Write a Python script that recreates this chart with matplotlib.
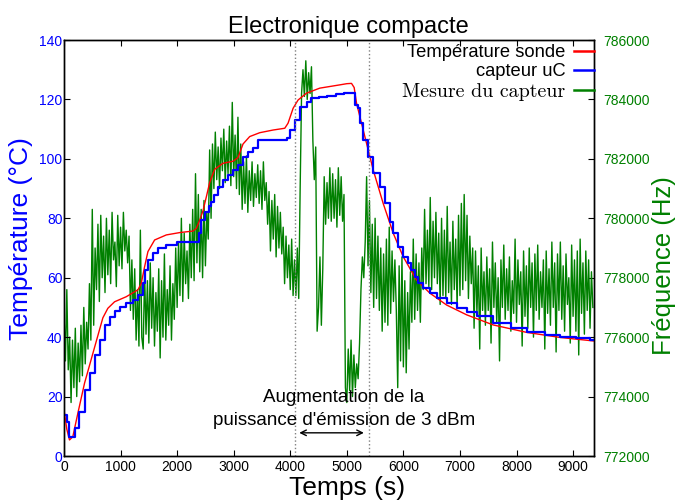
import numpy as np
import matplotlib
matplotlib.use("Agg")
import matplotlib.pyplot as plt

plt.rcParams['font.family'] = ['Liberation Sans', 'DejaVu Sans']

# ---- data ----
red_t = [0, 50, 97, 156, 245, 363, 510, 687, 775, 894, 1100, 1306, 1366, 1425, 1484,
         1602, 1809, 2050, 2280, 2340, 2400, 2457, 2520, 2575, 2664, 2810, 2988, 3076,
         3165, 3283, 3460, 3696, 3903, 3961, 4050, 4138, 4287, 4522, 4876, 5000, 5083,
         5130, 5172, 5290, 5466, 5643, 5820, 5996, 6233, 6469, 6765, 7120, 7589, 8180,
         8770, 9370]
red_T = [15.5, 9.0, 5.4, 6.5, 14.4, 24.5, 34.5, 46.5, 49.7, 51.9, 53.6, 55.9, 58.1, 63.7,
         68.8, 72.7, 74.4, 75.2, 75.7, 76.6, 79.4, 82.5, 87.5, 92.0, 96.5, 98.5, 99.2,
         100.4, 105.0, 107.5, 108.8, 109.7, 110.3, 112.0, 117.0, 119.8, 122.1, 123.8,
         124.9, 125.3, 125.4, 124.0, 118.7, 109.7, 96.3, 85.0, 75.0, 67.1, 59.2, 54.8,
         50.8, 47.5, 44.1, 41.6, 39.9, 38.7]

blue_t = [0, 60, 97, 186, 274, 363, 451, 540, 628, 717, 805, 894, 982, 1100, 1220, 1306,
          1395, 1425, 1484, 1570, 1660, 1800, 2000, 2380, 2430, 2490, 2560, 2605, 2650,
          2720, 2810, 2900, 2985, 3075, 3160, 3250, 3340, 3430, 3940, 3990, 4080, 4170,
          4290, 4375, 4500, 4650, 4800, 4950, 5142, 5200, 5240, 5290, 5377, 5466, 5584,
          5673, 5760, 5820, 5908, 5996, 6085, 6140, 6204, 6260, 6350, 6469, 6588, 6765,
          6942, 7120, 7300, 7590, 7900, 8180, 8500, 8770, 9050, 9300, 9370]
blue_T = [13.8, 11.5, 6.5, 9.3, 14.9, 22.2, 27.8, 34.0, 39.0, 44.1, 46.9, 48.9, 50.3, 51.4,
          52.5, 54.2, 58.1, 62.6, 66.0, 68.2, 69.9, 71.0, 72.1, 75.0, 79.4, 82.0, 84.0,
          85.5, 87.8, 90.6, 92.9, 94.6, 96.3, 97.9, 100.7, 102.4, 103.6, 106.4, 106.9,
          109.7, 113.1, 117.6, 119.3, 120.4, 120.9, 121.3, 121.7, 122.0, 118.1, 117.0,
          112.0, 106.4, 100.7, 95.2, 90.6, 85.0, 78.9, 75.0, 70.4, 67.1, 64.9, 62.6,
          60.4, 58.1, 56.4, 54.8, 53.1, 51.4, 49.7, 48.3, 47.0, 44.8, 43.2, 41.8, 40.8,
          40.2, 39.6, 39.0, 38.9]

# frequency samples every 25 s, in kHz
green_t = np.arange(0, 9375, 25)
green_khz = [
    776.8, 775.2, 777.6, 774.9, 776.0, 773.8, 775.9, 774.3, 776.3, 774.0,
    775.8, 774.5, 776.4, 774.7, 777.0, 775.1, 776.5, 775.6, 777.8, 775.9,
    780.3, 776.4, 779.0, 777.6, 779.8, 777.2, 780.1, 778.0, 779.4, 777.5,
    780.0, 778.1, 779.6, 777.8, 780.2, 778.6, 779.2, 777.7, 780.1, 778.4,
    779.7, 778.3, 780.2, 778.9, 779.6, 778.5, 779.4, 776.9, 778.6, 776.6,
    778.3, 775.9, 777.6, 775.7, 779.6, 776.0, 775.6, 778.2, 776.1, 777.9,
    775.8, 778.5, 776.3, 778.0, 775.7, 777.5, 776.2, 778.3, 775.3, 777.9,
    776.0, 778.8, 775.9, 777.6, 776.4, 778.4, 775.9, 777.8, 776.6, 779.0,
    777.0, 779.2, 777.4, 780.0, 777.2, 779.5, 777.8, 778.9, 777.3, 779.8,
    778.0, 780.3, 777.9, 781.5, 778.5, 780.8, 778.2, 780.3, 778.0, 780.6,
    778.4, 780.2, 779.3, 782.3, 780.0, 782.5, 781.0, 782.9, 781.3, 782.4,
    781.0, 782.7, 781.6, 783.0, 781.2, 782.6, 781.5, 783.1, 781.1, 783.9,
    781.4, 782.8, 781.0, 783.4, 780.8, 782.5, 780.3, 781.9, 780.5, 782.1,
    780.2, 781.6, 780.6, 781.9, 780.4, 781.5, 780.7, 781.8, 780.5, 781.6,
    780.3, 781.9, 780.6, 781.2, 779.8, 780.9, 778.9, 780.6, 779.3, 780.8,
    778.7, 780.4, 779.0, 780.2, 778.8, 779.7, 777.8, 779.4, 778.0, 779.1,
    777.6, 779.3, 777.4, 778.6, 777.4, 779.0, 777.3, 781.0, 784.2, 785.0,
    784.1, 785.3, 784.0, 784.9, 784.2, 785.1, 782.6, 781.3, 782.4, 776.2,
    777.0, 778.7, 776.4, 778.3, 781.4, 779.8, 781.2, 780.0, 781.7, 779.9,
    781.5, 780.0, 781.3, 779.7, 781.7, 780.1, 781.4, 779.9, 780.8, 774.3,
    773.8, 775.6, 774.2, 775.9, 774.0, 775.4, 774.3, 775.1, 774.6, 775.8,
    777.6, 778.7, 778.0, 779.2, 781.4, 778.4, 780.6, 777.5, 779.8, 777.0,
    780.0, 777.3, 779.4, 776.9, 779.0, 776.2, 778.8, 776.5, 779.3, 776.4,
    779.7, 776.8, 778.9, 777.2, 778.6, 776.9, 774.3, 778.4, 775.2, 778.7,
    775.0, 777.9, 774.8, 777.5, 775.6, 778.2, 776.5, 779.3, 776.6, 778.8,
    776.9, 778.5, 776.5, 779.0, 777.6, 780.3, 777.8, 779.6, 777.7, 780.7,
    777.6, 779.9, 778.0, 780.2, 777.8, 779.5, 777.1, 780.0, 777.4, 779.6,
    777.3, 780.4, 777.5, 779.2, 777.1, 779.9, 777.6, 779.3, 777.0, 780.1,
    777.4, 780.5, 777.6, 780.8, 777.9, 780.1, 777.3, 779.4, 777.8, 779.0,
    776.3, 778.9, 776.8, 778.4, 775.6, 779.0, 776.9, 778.2, 776.4, 778.7,
    776.9, 778.3, 775.8, 779.2, 777.0, 778.5, 776.5, 778.0, 775.2, 778.6,
    777.0, 779.1, 776.6, 778.3, 776.9, 778.7, 776.2, 777.9, 776.8, 779.3,
    776.5, 778.6, 777.1, 778.2, 775.7, 778.9, 776.7, 778.4, 776.3, 779.0,
    777.0, 778.5, 776.0, 778.8, 776.9, 779.1, 776.6, 778.2, 777.0, 778.6,
    775.6, 778.9, 776.8, 778.3, 776.4, 779.2, 777.0, 778.5, 775.5, 778.8,
    776.9, 779.2, 776.6, 778.4, 776.2, 778.8, 777.1, 778.0, 775.8, 779.1,
    776.7, 778.6, 776.2, 778.9, 775.4, 779.3, 776.8, 778.5, 776.1, 778.9,
    776.9, 778.6, 776.3, 778.2, 777.0]

x_ticks = list(range(0, 9001, 1000))
t_ticks = list(range(0, 141, 20))
f_ticks = list(range(772000, 786001, 2000))
labels = ['Température sonde', 'capteur uC', 'Mesure du capteur']

# ---- figure ----
fig = plt.figure(figsize=(6.79, 5.0), dpi=100)
ax = fig.add_axes([64 / 679, 44 / 500, 530 / 679, 416 / 500])
ax2 = ax.twinx()
ax.set_zorder(ax2.get_zorder() + 1)
ax.patch.set_visible(False)

g_line, = ax2.plot(green_t, np.array(green_khz) * 1000, color='#008000', lw=1.0)
r_line, = ax.plot(red_t, red_T, color='red', lw=1.0)
b_line, = ax.step(blue_t, blue_T, where='post', color='blue', lw=1.6)

ax.set_xlim(0, 9370)
ax.set_ylim(0, 140)
ax2.set_ylim(772000, 786000)
ax.set_xticks(x_ticks)
ax.set_yticks(t_ticks)
ax2.set_yticks(f_ticks)
ax2.ticklabel_format(axis='y', useOffset=False, style='plain')

ax.tick_params(axis='x', direction='in', top=True, length=4, labelsize=10, pad=3)
ax.tick_params(axis='y', direction='in', length=4, labelsize=10, labelcolor='blue', pad=1)
ax2.tick_params(axis='y', direction='in', length=4, labelsize=10, labelcolor='#008000', pad=7)

for a in (ax, ax2):
    for s in a.spines.values():
        s.set_linewidth(1.0)

ax.axvline(4080, color='gray', ls=':', lw=1)
ax.axvline(5390, color='gray', ls=':', lw=1)
ax.annotate('', xy=(4110, 7.8), xytext=(5350, 7.8),
            arrowprops=dict(arrowstyle='<->', color='black', lw=1, mutation_scale=10))
ax.text(4950, 15.8, "Augmentation de la\npuissance d'émission de 3 dBm",
        ha='center', va='center', fontsize=13.5, linespacing=1.5)

ax.set_title('Electronique compacte', fontsize=17, x=0.536, pad=5)
ax.set_xlabel('Temps (s)', fontsize=19, labelpad=0)
ax.xaxis.set_label_coords(0.534, -0.047)
ax.set_ylabel('Température (°C)', color='blue', fontsize=19)
ax2.set_ylabel('Fréquence (Hz)', color='#008000', fontsize=18.5)
ax.yaxis.set_label_coords(-0.058, 0.522)
ax2.yaxis.set_label_coords(1.11, 0.457)

leg = ax.legend([r_line, b_line, g_line], labels, loc='upper right',
                bbox_to_anchor=(1.0, 0.99), frameon=False,
                markerfirst=False, fontsize=13.2, handlelength=1.1, handletextpad=0.45,
                borderaxespad=0.0, borderpad=0.0, labelspacing=0.12)
leg.get_texts()[2].set_family('cmr10')
leg.get_texts()[2].set_fontsize(14.4)
for h in leg.get_lines():
    h.set_linewidth(1.8)

fig.savefig('out.png', dpi=100)
